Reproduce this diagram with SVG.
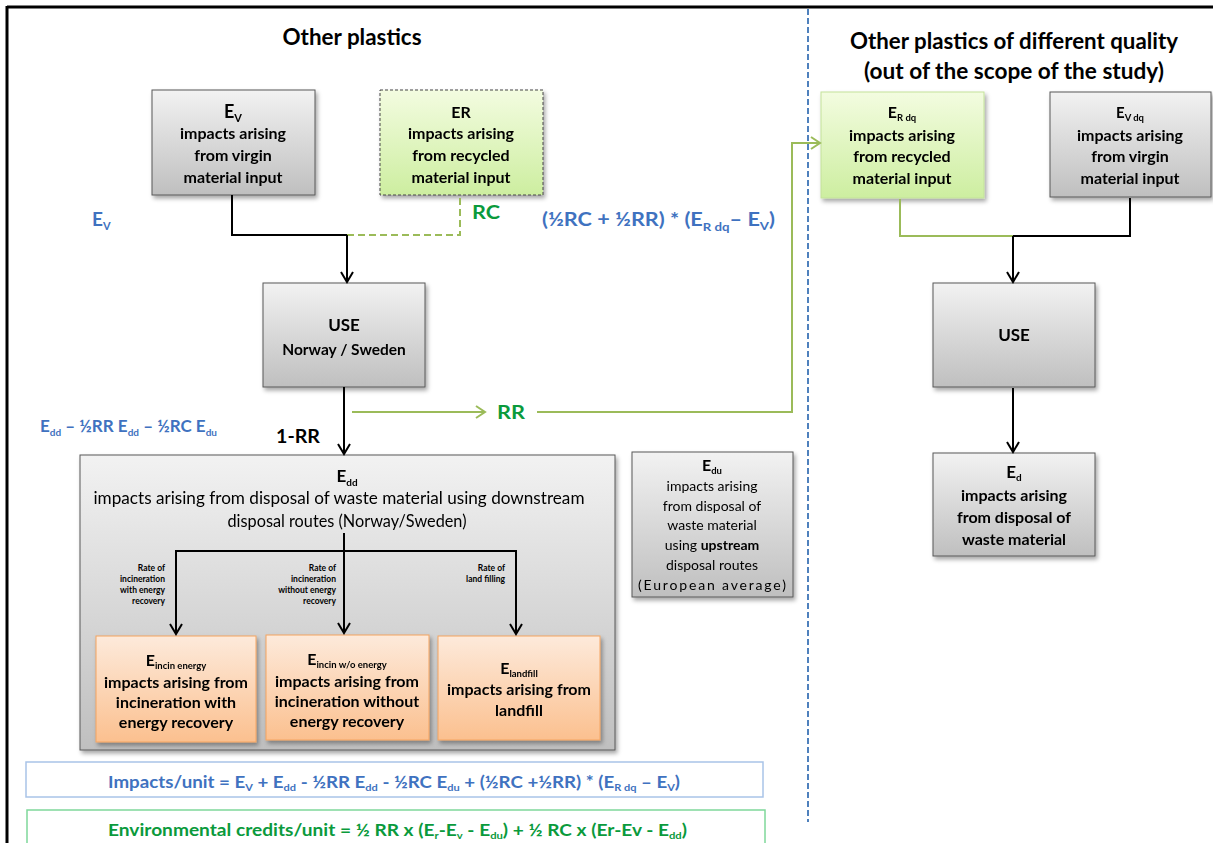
<svg xmlns="http://www.w3.org/2000/svg" width="1213" height="843" viewBox="0 0 1213 843">
<style>
text{font-family:Lato,"Open Sans","Liberation Sans",sans-serif;font-weight:bold;fill:#000;}
.c{text-anchor:middle;}
.t{font-size:16px;}
.n{font-weight:normal;}
.blue{fill:#3f72c0;}
.grn{fill:#0a9a3c;}
.gray{fill:url(#gGray);stroke:#595959;stroke-width:1;}
.green{fill:url(#gGreen);}
.orange{fill:url(#gOrange);stroke:#f4a460;stroke-width:1;}
.blk{stroke:#000;stroke-width:2;fill:none;}
.gl{stroke:#9bbb59;stroke-width:2;fill:none;}
.rate{font-size:8.5px;text-anchor:end;}
</style>
<defs>
<linearGradient id="gGray" x1="0" y1="0" x2="0" y2="1"><stop offset="0" stop-color="#f2f2f2"/><stop offset="1" stop-color="#bfbfbf"/></linearGradient>
<linearGradient id="gGreen" x1="0" y1="0" x2="0" y2="1"><stop offset="0" stop-color="#f3fce0"/><stop offset="1" stop-color="#cdeea0"/></linearGradient>
<linearGradient id="gOrange" x1="0" y1="0" x2="0" y2="1"><stop offset="0" stop-color="#fdeadb"/><stop offset="1" stop-color="#fbc08f"/></linearGradient>
<filter id="sh" x="-10%" y="-10%" width="130%" height="130%"><feDropShadow dx="2" dy="3" stdDeviation="2" flood-color="#000" flood-opacity="0.35"/></filter>
<marker id="aB" markerWidth="14" markerHeight="14" refX="12" refY="7" orient="auto" markerUnits="userSpaceOnUse" viewBox="0 0 14 14"><path d="M2,1 L12,7 L2,13" fill="none" stroke="#000" stroke-width="2"/></marker>
<marker id="aG" markerWidth="14" markerHeight="14" refX="12" refY="7" orient="auto" markerUnits="userSpaceOnUse" viewBox="0 0 14 14"><path d="M3,1 L12,7 L3,13" fill="none" stroke="#9bbb59" stroke-width="2"/></marker>
</defs>
<rect width="1213" height="843" fill="#fff"/>
<g id="frame">
<line x1="7" y1="7" x2="1213" y2="7" stroke="#000" stroke-width="3"/>
<line x1="7" y1="6" x2="7" y2="843" stroke="#000" stroke-width="3"/>
<line x1="808" y1="9" x2="808" y2="822" stroke="#4f81bd" stroke-width="2" stroke-dasharray="6,3"/>
</g>
<g id="titles">
<text class="c" x="352" y="45" font-size="22" textLength="139" lengthAdjust="spacingAndGlyphs">Other plastics</text>
<text class="c" x="1014" y="49" font-size="22" textLength="328" lengthAdjust="spacingAndGlyphs">Other plastics of different quality</text>
<text class="c" x="1014" y="79" font-size="22" textLength="300" lengthAdjust="spacingAndGlyphs">(out of the scope of the study)</text>
</g>
<g id="labels">
<text class="blue" x="92" y="226" font-size="19">E<tspan font-size="11" dy="4">V</tspan></text>
<text class="grn" x="472" y="219" font-size="19" textLength="28" lengthAdjust="spacingAndGlyphs">RC</text>
<text class="blue" x="542" y="226" font-size="18" textLength="233" lengthAdjust="spacingAndGlyphs">(½RC + ½RR) * (E<tspan font-size="11" dy="5">R dq</tspan><tspan dy="-5">– E</tspan><tspan font-size="11" dy="4">V</tspan><tspan dy="-4">)</tspan></text>
<text class="blue" x="40" y="432" font-size="17" textLength="177" lengthAdjust="spacingAndGlyphs">E<tspan font-size="10" dy="4">dd</tspan><tspan dy="-4"> – ½RR E</tspan><tspan font-size="10" dy="4">dd</tspan><tspan dy="-4"> – ½RC E</tspan><tspan font-size="10" dy="4">du</tspan></text>
<text x="276" y="443" font-size="18" textLength="44" lengthAdjust="spacingAndGlyphs">1-RR</text>
<text class="grn" x="497" y="419" font-size="19" textLength="28" lengthAdjust="spacingAndGlyphs">RR</text>
</g>
<g id="n-ev" filter="url(#sh)">
<rect class="gray" x="152" y="90" width="163" height="105"/>
<text class="c" x="233" y="118" font-size="18">E<tspan font-size="11" dy="4">V</tspan></text>
<text class="c t" x="233" y="139">impacts arising</text>
<text class="c t" x="233" y="161">from virgin</text>
<text class="c t" x="233" y="183">material input</text>
</g>
<g id="n-er" filter="url(#sh)">
<rect class="green" x="380" y="90" width="163" height="105" stroke="#444" stroke-width="1" stroke-dasharray="3,2"/>
<text class="c t" x="461" y="118">ER</text>
<text class="c t" x="461" y="139">impacts arising</text>
<text class="c t" x="461" y="161">from recycled</text>
<text class="c t" x="461" y="183">material input</text>
</g>
<g id="n-use" filter="url(#sh)">
<rect class="gray" x="263" y="283" width="162" height="104"/>
<text class="c" x="344" y="331" font-size="17">USE</text>
<text class="c" x="344" y="355" font-size="15.5">Norway / Sweden</text>
</g>
<g id="n-edd" filter="url(#sh)">
<rect class="gray" x="80" y="455" width="535" height="295"/>
<text class="c" x="347" y="482" font-size="17">E<tspan font-size="10" dy="4">dd</tspan></text>
<text class="c n" x="339" y="504" font-size="16.5" textLength="491" lengthAdjust="spacingAndGlyphs">impacts arising from disposal of waste material using downstream</text>
<text class="c n" x="347" y="527" font-size="16.5" textLength="239" lengthAdjust="spacingAndGlyphs">disposal routes (Norway/Sweden)</text>
</g>
<g id="rates">
<text class="rate" x="165" y="571">Rate of</text>
<text class="rate" x="165" y="582">incineration</text>
<text class="rate" x="165" y="593">with energy</text>
<text class="rate" x="165" y="604">recovery</text>
<text class="rate" x="336" y="571">Rate of</text>
<text class="rate" x="336" y="582">incineration</text>
<text class="rate" x="336" y="593">without energy</text>
<text class="rate" x="336" y="604">recovery</text>
<text class="rate" x="505" y="571">Rate of</text>
<text class="rate" x="505" y="582">land filling</text>
</g>
<g id="n-incin-energy" filter="url(#sh)">
<rect class="orange" x="96" y="636" width="160" height="106"/>
<text class="c" x="176" y="666" font-size="16">E<tspan font-size="9.5" dy="3">incin energy</tspan></text>
<text class="c t" x="176" y="688">impacts arising from</text>
<text class="c t" x="176" y="708">incineration with</text>
<text class="c t" x="176" y="728">energy recovery</text>
</g>
<g id="n-incin-wo" filter="url(#sh)">
<rect class="orange" x="266" y="635" width="163" height="105"/>
<text class="c" x="347" y="665" font-size="16">E<tspan font-size="9.5" dy="3">incin w/o energy</tspan></text>
<text class="c t" x="347" y="687">impacts arising from</text>
<text class="c t" x="347" y="707">incineration without</text>
<text class="c t" x="347" y="727">energy recovery</text>
</g>
<g id="n-landfill" filter="url(#sh)">
<rect class="orange" x="438" y="636" width="162" height="104"/>
<text class="c" x="519" y="674" font-size="16">E<tspan font-size="9.5" dy="3">landfill</tspan></text>
<text class="c t" x="519" y="695">impacts arising from</text>
<text class="c t" x="519" y="716">landfill</text>
</g>
<g id="n-edu" filter="url(#sh)">
<rect class="gray" x="632" y="452" width="161" height="145"/>
<text class="c" x="712" y="471" font-size="16">E<tspan font-size="9.5" dy="3">du</tspan></text>
<text class="c n" x="712" y="491" font-size="14">impacts arising</text>
<text class="c n" x="712" y="511" font-size="14">from disposal of</text>
<text class="c n" x="712" y="530" font-size="14">waste material</text>
<text class="c n" x="712" y="550" font-size="14">using <tspan font-weight="bold">upstream</tspan></text>
<text class="c n" x="712" y="570" font-size="14">disposal routes</text>
<text class="c n" x="712" y="590" font-size="14" textLength="148" lengthAdjust="spacing">(European average)</text>
</g>
<g id="n-erdq" filter="url(#sh)">
<rect class="green" x="821" y="92" width="163" height="106" stroke="#c3e29a" stroke-width="1"/>
<text class="c" x="902" y="118" font-size="16">E<tspan font-size="9.5" dy="3">R dq</tspan></text>
<text class="c t" x="902" y="141">impacts arising</text>
<text class="c t" x="902" y="162">from recycled</text>
<text class="c t" x="902" y="184">material input</text>
</g>
<g id="n-evdq" filter="url(#sh)">
<rect class="gray" x="1050" y="92" width="161" height="105"/>
<text class="c" x="1130" y="118" font-size="15">E<tspan font-size="9.5" dy="3">V  dq</tspan></text>
<text class="c t" x="1130" y="141">impacts arising</text>
<text class="c t" x="1130" y="162">from virgin</text>
<text class="c t" x="1130" y="184">material input</text>
</g>
<g id="n-use2" filter="url(#sh)">
<rect class="gray" x="933" y="283" width="162" height="104"/>
<text class="c" x="1014" y="341" font-size="17">USE</text>
</g>
<g id="n-ed" filter="url(#sh)">
<rect class="gray" x="933" y="453" width="162" height="103"/>
<text class="c" x="1014" y="478" font-size="17">E<tspan font-size="10" dy="3">d</tspan></text>
<text class="c t" x="1014" y="501">impacts arising</text>
<text class="c t" x="1014" y="523">from disposal of</text>
<text class="c t" x="1014" y="545">waste material</text>
</g>
<g id="connectors">
<polyline class="blk" points="232,195 232,235 347,235"/>
<polyline points="347,235 460,235 460,195" fill="none" stroke="#9bbb59" stroke-width="2" stroke-dasharray="7,4"/>
<line class="blk" x1="347" y1="235" x2="347" y2="282" marker-end="url(#aB)"/>
<line class="blk" x1="344" y1="387" x2="344" y2="454" marker-end="url(#aB)"/>
<line class="gl" x1="352" y1="412" x2="485" y2="412" marker-end="url(#aG)"/>
<polyline class="gl" points="537,412 792,412 792,143 820,143" marker-end="url(#aG)"/>
<line class="blk" x1="344" y1="533" x2="344" y2="551"/>
<line class="blk" x1="175" y1="551" x2="517" y2="551"/>
<line class="blk" x1="176" y1="551" x2="176" y2="634" marker-end="url(#aB)"/>
<line class="blk" x1="344" y1="551" x2="344" y2="633" marker-end="url(#aB)"/>
<line class="blk" x1="516" y1="551" x2="516" y2="634" marker-end="url(#aB)"/>
<polyline class="gl" points="900,199 900,236 1013,236"/>
<polyline class="blk" points="1013,236 1130,236 1130,198"/>
<line class="blk" x1="1013" y1="236" x2="1013" y2="282" marker-end="url(#aB)"/>
<line class="blk" x1="1013" y1="388" x2="1013" y2="452" marker-end="url(#aB)"/>
</g>
<g id="f-impacts">
<rect x="26" y="762" width="737" height="35" fill="#fff" stroke="#a9c4e8" stroke-width="1.5"/>
<text class="blue" x="108" y="788" font-size="17" textLength="572" lengthAdjust="spacingAndGlyphs">Impacts/unit = E<tspan font-size="10" dy="3">V</tspan><tspan dy="-3"> + E</tspan><tspan font-size="10" dy="3">dd</tspan><tspan dy="-3"> - ½RR E</tspan><tspan font-size="10" dy="3">dd</tspan><tspan dy="-3"> - ½RC E</tspan><tspan font-size="10" dy="3">du</tspan><tspan dy="-3"> + (½RC +½RR) * (E</tspan><tspan font-size="10" dy="3">R dq</tspan><tspan dy="-3"> – E</tspan><tspan font-size="10" dy="3">V</tspan><tspan dy="-3">)</tspan></text>
</g>
<g id="f-credits">
<rect x="27" y="810" width="738" height="40" fill="#fff" stroke="#7fd89a" stroke-width="1.5"/>
<text class="grn" x="108" y="836" font-size="17" textLength="579" lengthAdjust="spacingAndGlyphs">Environmental credits/unit =  ½ RR x (E<tspan font-size="10" dy="3">r</tspan><tspan dy="-3">-E</tspan><tspan font-size="10" dy="3">v</tspan><tspan dy="-3"> - E</tspan><tspan font-size="10" dy="3">du</tspan><tspan dy="-3">) + ½ RC x (Er-Ev - E</tspan><tspan font-size="10" dy="3">dd</tspan><tspan dy="-3">)</tspan></text>
</g>
</svg>
